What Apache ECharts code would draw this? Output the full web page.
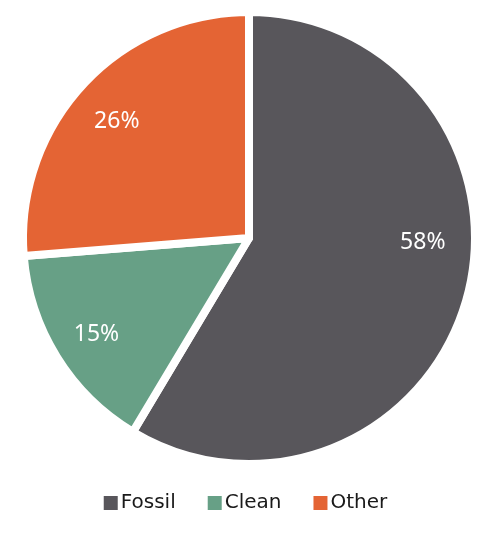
<!DOCTYPE html>
<html><head><meta charset="utf-8">
<script src="https://cdn.jsdelivr.net/npm/echarts@6/dist/echarts.min.js"></script>
<style>html,body{margin:0;padding:0;background:#fff}#c{width:489px;height:538px}</style>
</head><body><div id="c"></div>
<script>
const categories = ["Fossil", "Clean", "Other"];
const values = [58, 15, 26];
const colors = ["#58565b", "#67a086", "#e46434"];
const labelOffsets = [[62, -26], [-54, 35], [-47, -38]];

const chart = echarts.init(document.getElementById('c'));
chart.setOption({
  animation: false,
  legend: {
    bottom: 20, left: 'center',
    itemWidth: 16, itemHeight: 16, itemGap: 30,
    icon: 'rect',
    textStyle: {fontFamily: 'DejaVu Sans', fontSize: 20, color: '#1a1a1a', padding: [0,0,0,-3]},
    data: categories
  },
  series: [{
    type: 'pie',
    center: [249, 238],
    radius: [0, 226],
    startAngle: 90,
    clockwise: true,
    itemStyle: {borderColor: '#fff', borderWidth: 8},
    label: {position: 'inside', formatter: '{d}%', color: '#fff', fontFamily: 'Noto Sans', fontSize: 23},
    emphasis: {disabled: true},
    data: categories.map((n, i) => ({
      name: n, value: values[i],
      itemStyle: {color: colors[i]},
      label: {offset: labelOffsets[i], formatter: values[i] + '%'}
    }))
  }]
});
</script></body></html>
